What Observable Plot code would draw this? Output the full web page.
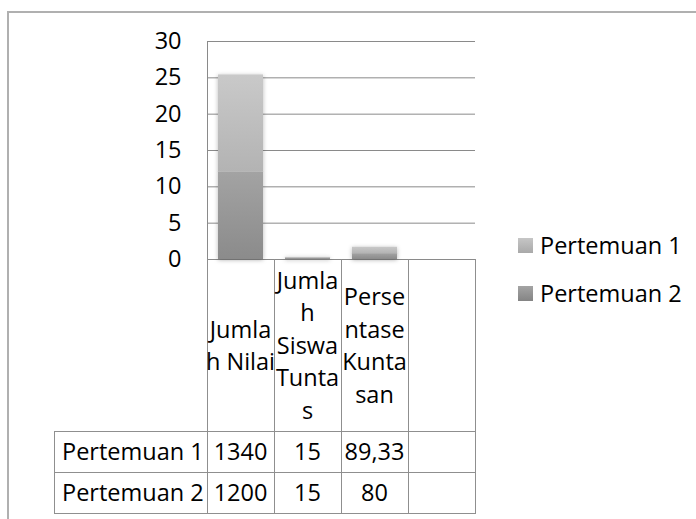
<!DOCTYPE html>
<html><head><meta charset="utf-8">
<script src="https://cdn.jsdelivr.net/npm/d3@7"></script>
<script src="https://cdn.jsdelivr.net/npm/@observablehq/plot@0.6"></script>
<style>
body{margin:0;background:#fff;font-family:"Open Sans",sans-serif;color:#000;}
#wrap{position:relative;width:696px;height:519px;overflow:hidden;background:#fff;}
#wrap svg{position:absolute;left:0;top:0;}
.frame{position:absolute;left:7px;top:11px;width:760px;height:600px;border-top:2px solid #b0b0b0;border-left:2px solid #b0b0b0;}
.ln{position:absolute;background:#8f8f8f;}
.cell{position:absolute;display:flex;align-items:center;justify-content:center;text-align:center;white-space:nowrap;font-size:23.5px;line-height:32.5px;}
.lab{justify-content:flex-start;}
.lg{position:absolute;font-size:23.5px;line-height:30px;white-space:nowrap;}
.sw{position:absolute;width:15px;height:15px;}
</style></head><body><div id="wrap"><div class="frame"></div></div>
<script>
// ---- data ----
const categories = ["Jumlah Nilai", "Jumlah Siswa Tuntas", "Persentase Kuntasan", "(kosong)"];
const categoryLines = [["Jumla", "h Nilai"], ["Jumla", "h", "Siswa", "Tunta", "s"], ["Perse", "ntase", "Kunta", "san"], []];
const series = ["Pertemuan 1", "Pertemuan 2"];
// bar heights as drawn in the picture
const barPertemuan1 = [13.4, 0.15, 0.89, 0];
const barPertemuan2 = [12, 0.15, 0.8, 0];
// data table text
const tablePertemuan1 = ["1340", "15", "89,33", ""];
const tablePertemuan2 = ["1200", "15", "80", ""];
const yTicks = [0, 5, 10, 15, 20, 25, 30];

// ---- build ----
const fills = {"Pertemuan 1": "url(#gP1)", "Pertemuan 2": "url(#gP2)"};
const rows = [];
// Pertemuan 2 stacked at the bottom
[["Pertemuan 2", barPertemuan2], ["Pertemuan 1", barPertemuan1]].forEach(([s, vals]) =>
  vals.forEach((v, i) => { if (v > 0) rows.push({cat: categories[i], series: s, value: v}); }));

const plot = Plot.plot({
  width: 696, height: 262,
  marginTop: 41, marginBottom: 3, marginLeft: 207, marginRight: 221,
  style: {fontFamily: "Open Sans", fontSize: "23.5px", color: "#8a8a8a", background: "transparent", overflow: "visible"},
  x: {domain: categories, paddingInner: 0.328, paddingOuter: 0.164, round: false, axis: null},
  y: {domain: [0, 30], ticks: yTicks, tickSize: 0, tickPadding: 26, line: true, label: null},
  color: {type: "identity"},
  marks: [
    Plot.ruleY(yTicks, {stroke: "#8a8a8a"}),
    Plot.barY(rows, {x: "cat", y: "value", z: "series", fill: d => fills[d.series]})
  ]
});

const svg = d3.select(plot);
svg.selectAll("text").attr("fill", "#000").style("fill", "#000");
const defs = svg.insert("defs", ":first-child");
function grad(id, top, bottom) {
  const g = defs.append("linearGradient").attr("id", id).attr("x1", 0).attr("y1", 0).attr("x2", 0).attr("y2", 1);
  g.append("stop").attr("offset", "0").attr("stop-color", top);
  g.append("stop").attr("offset", "1").attr("stop-color", bottom);
}
grad("gP1", "#c9c9c9", "#b3b3b3");
grad("gP2", "#a3a3a3", "#8b8b8b");
const f = defs.append("filter").attr("id", "shadow").attr("x", "-30%").attr("y", "-30%").attr("width", "160%").attr("height", "160%");
f.append("feDropShadow").attr("dx", 0).attr("dy", 1).attr("stdDeviation", 2).attr("flood-color", "#000").attr("flood-opacity", 0.3);
svg.selectAll('g[aria-label="bar"]').attr("filter", "url(#shadow)");

const wrap = document.getElementById("wrap");
wrap.appendChild(plot);

// ---- data table (columns follow the chart's x scale) ----
const xs = plot.scale("x");
const step = xs.step ?? (xs.range[1] - xs.range[0]) / categories.length;
const colLeft = i => (i < categories.length ? xs.apply(categories[i]) - (step - xs.bandwidth) / 2 : xs.range[1]);
const tableLeft = 54, axisY = 259, headBottom = 431, row1Bottom = 472, row2Bottom = 513;

function line(x, y, w, h) {
  const d = document.createElement("div");
  d.className = "ln";
  Object.assign(d.style, {left: x + "px", top: y + "px", width: w + "px", height: h + "px"});
  wrap.appendChild(d);
}
function cell(x, y, w, h, html, cls) {
  const d = document.createElement("div");
  d.className = "cell" + (cls ? " " + cls : "");
  Object.assign(d.style, {left: x + "px", top: y + "px", width: w + "px", height: h + "px"});
  d.innerHTML = html;
  wrap.appendChild(d);
}
const right = Math.round(colLeft(categories.length));
for (let i = 0; i <= categories.length; i++) {
  const x = Math.round(colLeft(i));
  line(x, axisY, 1, row2Bottom - axisY + 1);
}
line(tableLeft, headBottom, 1, row2Bottom - headBottom + 1);
[headBottom, row1Bottom, row2Bottom].forEach(y => line(tableLeft, y, right - tableLeft + 1, 1));

categories.forEach((c, i) => {
  const x = Math.round(colLeft(i)), w = Math.round(colLeft(i + 1)) - x;
  cell(x, axisY, w, headBottom - axisY, categoryLines[i].join("<br>"));
  cell(x, headBottom, w, row1Bottom - headBottom, tablePertemuan1[i]);
  cell(x, row1Bottom, w, row2Bottom - row1Bottom, tablePertemuan2[i]);
});
const labW = Math.round(colLeft(0)) - tableLeft;
cell(tableLeft + 8, headBottom, labW - 8, row1Bottom - headBottom, series[0], "lab");
cell(tableLeft + 8, row1Bottom, labW - 8, row2Bottom - row1Bottom, series[1], "lab");

// ---- legend ----
const legendSw = {"Pertemuan 1": "linear-gradient(#c6c6c6,#a9a9a9)", "Pertemuan 2": "linear-gradient(#a4a4a4,#848484)"};
series.forEach((s, k) => {
  const top = 238 + k * 48;
  const sw = document.createElement("div");
  sw.className = "sw";
  Object.assign(sw.style, {left: "518px", top: top + "px", background: legendSw[s]});
  wrap.appendChild(sw);
  const t = document.createElement("div");
  t.className = "lg";
  Object.assign(t.style, {left: "540px", top: (top - 8) + "px"});
  t.textContent = s;
  wrap.appendChild(t);
});
</script></body></html>
